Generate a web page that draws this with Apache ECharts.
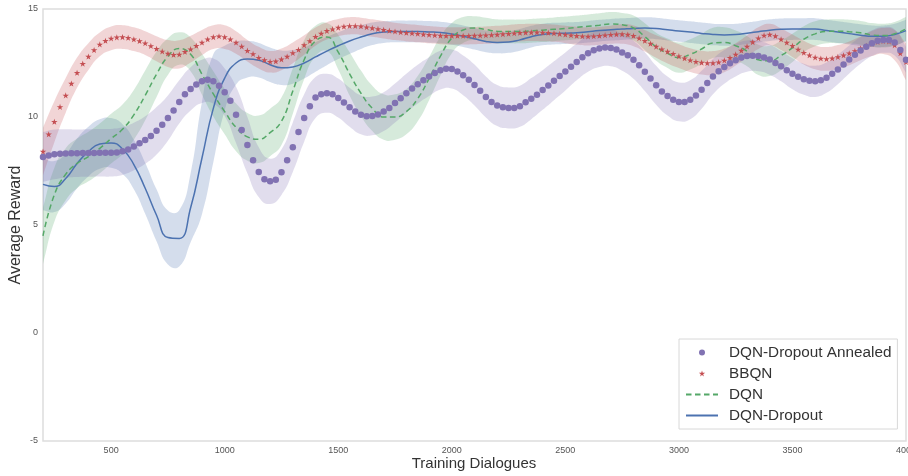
<!DOCTYPE html>
<html>
<head>
<meta charset="utf-8">
<title>Average Reward</title>
<script src="https://cdn.jsdelivr.net/npm/echarts@6/dist/echarts.min.js"></script>
<style>
	html, body { margin: 0; padding: 0; background: #fff; }
	#chart { width: 908px; height: 476px; }
</style>
</head>
<body>
<div id="chart"></div>
<script>
// sampling of the training curves (dialogues)
const xFirst = 200;
const stepFine = 25;    // marker series
const stepCoarse = 50;  // line series and shaded bands

const xTicks = [500, 1000, 1500, 2000, 2500, 3000, 3500, 4000];
const yTicks = [-5, 0, 5, 10, 15];

// DQN-Dropout Annealed, every 25 dialogues from 200
const annealed = [
	8.15, 8.22, 8.27, 8.3, 8.31, 8.32, 8.32, 8.33, 8.33, 8.33, 8.34, 8.34, 8.35, 8.36, 8.42, 8.5, 8.63, 8.78, 8.93, 9.12,
	9.36, 9.64, 9.95, 10.3, 10.7, 11.05, 11.3, 11.5, 11.65, 11.73, 11.66, 11.45, 11.15, 10.75, 10.1, 9.4, 8.7, 8.0, 7.45, 7.12,
	7.02, 7.1, 7.44, 8.0, 8.6, 9.3, 9.95, 10.5, 10.9, 11.05, 11.1, 11.05, 10.88, 10.67, 10.45, 10.25, 10.1, 10.04, 10.05, 10.12,
	10.25, 10.42, 10.65, 10.87, 11.1, 11.32, 11.52, 11.7, 11.87, 12.04, 12.17, 12.23, 12.22, 12.11, 11.93, 11.73, 11.48, 11.22, 10.93, 10.7,
	10.53, 10.45, 10.42, 10.42, 10.5, 10.68, 10.85, 11.03, 11.25, 11.46, 11.68, 11.9, 12.11, 12.33, 12.55, 12.77, 12.95, 13.09, 13.17, 13.22,
	13.2, 13.13, 12.99, 12.86, 12.65, 12.4, 12.1, 11.78, 11.47, 11.18, 10.97, 10.8, 10.7, 10.7, 10.8, 11.0, 11.26, 11.57, 11.87, 12.12,
	12.32, 12.49, 12.63, 12.75, 12.82, 12.84, 12.82, 12.76, 12.66, 12.5, 12.35, 12.17, 12.0, 11.86, 11.75, 11.68, 11.65, 11.7, 11.82, 12.0,
	12.2, 12.43, 12.66, 12.88, 13.08, 13.25, 13.42, 13.53, 13.57, 13.56, 13.45, 13.1, 12.65
];

// BBQN, every 25 dialogues from 200
const bbqn = [
	8.4, 9.2, 9.78, 10.47, 11.0, 11.55, 12.05, 12.47, 12.8, 13.1, 13.36, 13.53, 13.64, 13.69, 13.7, 13.67, 13.6, 13.52, 13.42, 13.29,
	13.16, 13.04, 12.94, 12.88, 12.9, 13.02, 13.14, 13.3, 13.45, 13.6, 13.7, 13.74, 13.7, 13.6, 13.45, 13.27, 13.07, 12.92, 12.75, 12.64,
	12.56, 12.58, 12.67, 12.8, 12.97, 13.12, 13.33, 13.52, 13.72, 13.87, 13.99, 14.07, 14.14, 14.19, 14.22, 14.22, 14.2, 14.16, 14.12, 14.08,
	14.04, 14.0, 13.96, 13.93, 13.9, 13.88, 13.86, 13.83, 13.81, 13.79, 13.77, 13.76, 13.76, 13.76, 13.76, 13.76, 13.77, 13.78, 13.79, 13.8,
	13.82, 13.84, 13.86, 13.88, 13.9, 13.91, 13.92, 13.92, 13.91, 13.9, 13.88, 13.85, 13.82, 13.79, 13.76, 13.74, 13.73, 13.74, 13.76, 13.79,
	13.81, 13.83, 13.84, 13.82, 13.76, 13.65, 13.53, 13.4, 13.26, 13.14, 13.03, 12.93, 12.82, 12.72, 12.63, 12.56, 12.52, 12.5, 12.5, 12.54,
	12.62, 12.74, 12.9, 13.08, 13.27, 13.47, 13.65, 13.78, 13.82, 13.75, 13.6, 13.45, 13.3, 13.13, 12.98, 12.86, 12.76, 12.71, 12.69, 12.72,
	12.78, 12.86, 12.95, 13.06, 13.18, 13.29, 13.4, 13.48, 13.52, 13.5, 13.33, 12.95, 12.55
];

// DQN, every 50 dialogues from 200
const dqn = [
	4.5, 6.4, 7.35, 7.85, 8.17, 8.55, 9.0, 9.43, 10.1, 11.0,
	11.98, 12.8, 13.17, 12.9, 11.98, 11.07, 10.25, 9.52, 9.08, 8.97,
	9.28, 9.8, 11.2, 12.65, 13.52, 13.7, 13.0, 12.0, 11.1, 10.4,
	10.0, 10.0, 10.25, 10.85, 11.78, 12.82, 13.65, 14.03, 14.12, 14.05,
	13.97, 13.96, 13.96, 13.99, 14.02, 14.06, 14.1, 14.15, 14.2, 14.25,
	14.31, 14.27, 14.12, 13.72, 13.25, 12.95, 12.75, 12.9, 13.15, 13.43,
	13.45, 13.3, 13.05, 12.65, 12.6, 12.85, 13.2, 13.6, 13.85, 13.96,
	13.97, 13.95, 13.9, 13.8, 13.77, 13.85, 14.08
];

// DQN-Dropout, every 50 dialogues from 200
const dropout = [
	6.88, 6.78, 7.15, 7.85, 8.4, 8.75, 8.8, 8.52, 7.8, 6.7,
	5.45, 4.42, 4.38, 5.8, 8.1, 10.4, 11.8, 12.5, 12.68, 12.63,
	12.42, 12.28, 12.32, 12.5, 12.78, 13.05, 13.3, 13.52, 13.7, 13.85,
	13.93, 13.96, 13.96, 13.96, 13.94, 13.91, 13.84, 13.74, 13.62, 13.5,
	13.45, 13.47, 13.57, 13.72, 13.82, 13.86, 13.88, 13.9, 13.95, 14.0,
	14.04, 14.07, 14.1, 14.12, 14.1, 14.04, 13.98, 13.93, 13.87, 13.82,
	13.8, 13.82, 13.88, 13.95, 14.02, 14.06, 14.07, 14.07, 14.07, 14.0,
	13.93, 13.86, 13.79, 13.74, 13.74, 13.82, 14.0
];

// half height of the shaded bands, every 50 dialogues from 200
const annealedSpread = [
	1.15, 1.15, 1.12, 1.1, 1.1, 1.1, 1.1, 1.1, 1.1, 1.1,
	1.1, 1.05, 1.0, 1.0, 1.0, 1.05, 1.1, 1.3, 1.3, 1.15,
	1.05, 1.05, 1.15, 1.1, 0.95, 0.9, 0.9, 0.9, 0.9, 0.9,
	0.9, 0.9, 0.9, 0.9, 0.9, 0.9, 0.9, 0.92, 0.95, 0.95,
	0.95, 0.95, 0.95, 0.95, 0.92, 0.9, 0.88, 0.85, 0.85, 0.85,
	0.85, 0.85, 0.88, 0.9, 0.9, 0.9, 0.9, 0.9, 0.88, 0.82,
	0.78, 0.75, 0.72, 0.7, 0.7, 0.7, 0.72, 0.72, 0.72, 0.7,
	0.68, 0.65, 0.62, 0.6, 0.6, 0.6, 0.6
];
const bbqnSpread = [
	1.1, 0.95, 0.8, 0.7, 0.62, 0.55, 0.55, 0.55, 0.55, 0.55,
	0.58, 0.62, 0.65, 0.62, 0.58, 0.55, 0.55, 0.52, 0.5, 0.5,
	0.5, 0.5, 0.48, 0.45, 0.42, 0.4, 0.4, 0.4, 0.4, 0.4,
	0.4, 0.4, 0.4, 0.4, 0.4, 0.4, 0.4, 0.4, 0.4, 0.4,
	0.4, 0.4, 0.4, 0.4, 0.4, 0.4, 0.4, 0.42, 0.42, 0.42,
	0.42, 0.45, 0.48, 0.5, 0.52, 0.55, 0.55, 0.55, 0.55, 0.55,
	0.55, 0.52, 0.5, 0.5, 0.5, 0.5, 0.52, 0.55, 0.55, 0.55,
	0.55, 0.55, 0.55, 0.58, 0.6, 0.7, 0.85
];
const dqnSpread = [
	1.3, 1.25, 1.2, 1.15, 1.15, 1.15, 1.15, 1.15, 1.15, 1.15,
	1.05, 0.85, 0.75, 0.78, 0.95, 1.05, 1.05, 1.1, 1.1, 1.1,
	1.1, 1.1, 1.05, 0.9, 0.7, 0.65, 0.8, 1.0, 1.05, 1.05,
	1.05, 1.05, 1.05, 1.05, 1.0, 0.9, 0.7, 0.6, 0.55, 0.55,
	0.55, 0.55, 0.55, 0.55, 0.55, 0.55, 0.55, 0.55, 0.55, 0.55,
	0.55, 0.55, 0.58, 0.62, 0.65, 0.68, 0.7, 0.7, 0.7, 0.7,
	0.7, 0.7, 0.7, 0.7, 0.7, 0.68, 0.65, 0.6, 0.58, 0.55,
	0.55, 0.55, 0.55, 0.55, 0.55, 0.55, 0.55
];
const dropoutSpread = [
	1.2, 1.18, 1.15, 1.15, 1.15, 1.15, 1.15, 1.15, 1.15, 1.18,
	1.2, 1.25, 1.3, 1.6, 2.6, 2.5, 1.5, 1.0, 0.85, 0.8,
	0.8, 0.8, 0.78, 0.72, 0.68, 0.65, 0.62, 0.6, 0.55, 0.52,
	0.5, 0.5, 0.5, 0.5, 0.5, 0.5, 0.5, 0.5, 0.5, 0.5,
	0.5, 0.5, 0.5, 0.5, 0.5, 0.5, 0.5, 0.5, 0.5, 0.5,
	0.5, 0.5, 0.5, 0.5, 0.5, 0.5, 0.5, 0.5, 0.5, 0.5,
	0.5, 0.5, 0.5, 0.5, 0.5, 0.5, 0.5, 0.5, 0.5, 0.5,
	0.5, 0.5, 0.5, 0.5, 0.5, 0.5, 0.5
];

const names = ['DQN-Dropout Annealed', 'BBQN', 'DQN', 'DQN-Dropout'];
const colors = ['#8172B2', '#C44E52', '#55A868', '#4C72B0'];
const bandColors = ['rgba(129,114,178,0.24)', 'rgba(196,78,82,0.24)', 'rgba(85,168,104,0.24)', 'rgba(76,114,176,0.24)'];

const STAR = 'path://M50,0 L61,35 L98,35 L68,57 L79,91 L50,70 L21,91 L32,57 L2,35 L39,35 Z';
const FONT = 'Liberation Sans, Arial, sans-serif';

function toPoints(values, step)
{
	return values.map((v, i) => [xFirst + i * step, v]);
}

// bezier path through pixel points, same control points as a smooth:true line
function smoothPath(pts, start)
{
	let d = start + pts[0][0] + ',' + pts[0][1];
	let cp = [];
	for (let i = 0; i < pts.length; i++)
	{
		let prev = pts[Math.max(i - 1, 0)];
		let next = pts[Math.min(i + 1, pts.length - 1)];
		let p = pts[i];
		let l0 = Math.hypot(p[0] - prev[0], p[1] - prev[1]);
		let l1 = Math.hypot(next[0] - p[0], next[1] - p[1]);
		let r = (l0 + l1) > 0 ? l1 / (l0 + l1) : 0.5;
		let vx = next[0] - prev[0];
		let vy = next[1] - prev[1];
		cp.push({
			before: [p[0] - vx * 0.5 * (1 - r), p[1] - vy * 0.5 * (1 - r)],
			after: [p[0] + vx * 0.5 * r, p[1] + vy * 0.5 * r],
		});
	}
	for (let i = 1; i < pts.length; i++)
	{
		let a = cp[i - 1].after;
		let b = cp[i].before;
		d += ' C' + a[0] + ',' + a[1] + ' ' + b[0] + ',' + b[1] + ' ' + pts[i][0] + ',' + pts[i][1];
	}
	return d;
}

// shaded region mean +/- spread, drawn as one filled path
function band(mean, meanStep, spread, color)
{
	let rows = spread.map((s, i) =>
	{
		let x = xFirst + i * stepCoarse;
		let m = mean[Math.round((x - xFirst) / meanStep)];
		return [x, m - s, m + s];
	});

	return {
		type: 'custom',
		silent: true,
		clip: true,
		z: 1,
		data: rows,
		encode: { x: 0, y: [1, 2] },
		renderItem: (params, api) =>
		{
			if (params.dataIndex !== 0)
			{
				return null;
			}
			let top = rows.map((r) => api.coord([r[0], r[2]]));
			let bottom = rows.map((r) => api.coord([r[0], r[1]])).reverse();
			return {
				type: 'path',
				shape: { pathData: smoothPath(top, 'M') + ' ' + smoothPath(bottom, 'L') + ' Z' },
				style: { fill: color },
			};
		},
	};
}

class RewardChart
{
	static Create(element)
	{
		return new RewardChart(element);
	}

	constructor(element)
	{
		this.element = element;
		this.chart = echarts.init(this.element, null, { renderer: 'canvas' });
	}

	Draw()
	{
		let series = [
			band(dropout, stepCoarse, dropoutSpread, bandColors[3]),
			band(dqn, stepCoarse, dqnSpread, bandColors[2]),
			band(bbqn, stepFine, bbqnSpread, bandColors[1]),
			band(annealed, stepFine, annealedSpread, bandColors[0]),
		];

		series.push({
			name: names[3],
			type: 'line',
			data: toPoints(dropout, stepCoarse),
			smooth: true,
			symbol: 'none',
			z: 3,
			lineStyle: { color: colors[3], width: 1.5 },
			itemStyle: { color: colors[3] },
		});
		series.push({
			name: names[2],
			type: 'line',
			data: toPoints(dqn, stepCoarse),
			smooth: true,
			symbol: 'none',
			z: 3,
			lineStyle: { color: colors[2], width: 1.5, type: [5.5, 3.5] },
			itemStyle: { color: colors[2] },
		});
		series.push({
			name: names[1],
			type: 'scatter',
			data: toPoints(bbqn, stepFine),
			symbol: STAR,
			symbolSize: 6.5,
			symbolKeepAspect: true,
			z: 4,
			itemStyle: { color: colors[1], opacity: 1 },
		});
		series.push({
			name: names[0],
			type: 'scatter',
			data: toPoints(annealed, stepFine),
			symbol: 'circle',
			symbolSize: 6.5,
			z: 4,
			itemStyle: { color: colors[0], opacity: 1 },
		});

		let hidden = { color: 'rgba(0,0,0,0)', borderWidth: 0 };

		let option = {
			animation: false,
			backgroundColor: '#fff',
			grid: {
				left: 43, right: 2, top: 9, bottom: 35,
				outerBoundsMode: 'none',
				containLabel: false,
				show: true, borderColor: '#dddddd', borderWidth: 1.5, backgroundColor: 'transparent',
			},
			// axis titles, placed by hand
			graphic: [
				{
					type: 'text',
					x: 16, y: 225,
					rotation: Math.PI / 2,
					style: {
						text: 'Average Reward', fill: '#333',
						font: '16px Liberation Sans, Arial, sans-serif',
						align: 'center', verticalAlign: 'middle',
					},
				},
				{
					type: 'text',
					x: 474, y: 464,
					style: {
						text: 'Training Dialogues', fill: '#333',
						font: '15px Liberation Sans, Arial, sans-serif',
						align: 'center', verticalAlign: 'middle',
					},
				},
			],
			legend: {
				data: [
					{ name: names[0], icon: 'circle' },
					{ name: names[1], icon: STAR },
					{ name: names[2], itemStyle: hidden },
					{ name: names[3], itemStyle: hidden },
				],
				orient: 'vertical',
				left: 679,
				top: 339,
				itemWidth: 32,
				itemHeight: 6,
				itemGap: 6,
				padding: [6, 6, 6, 6],
				backgroundColor: '#fff',
				borderColor: '#d8d8d8',
				borderWidth: 1,
				textStyle: { fontFamily: FONT, fontSize: 15.3, color: '#333', padding: [0, 0, 0, 6] },
			},
			xAxis: {
				type: 'value',
				min: xFirst,
				max: 4000,
				axisLine: { show: false },
				axisTick: { show: false },
				splitLine: { show: false },
				axisLabel: {
					customValues: xTicks,
					formatter: (v) => String(v),
					fontFamily: FONT, fontSize: 9, color: '#555', margin: 5,
				},
			},
			yAxis: {
				type: 'value',
				min: -5,
				max: 15,
				interval: 5,
				axisLine: { show: false },
				axisTick: { show: false },
				splitLine: { show: false },
				axisLabel: {
					customValues: yTicks,
					formatter: (v) => String(v),
					fontFamily: FONT, fontSize: 9, color: '#555', margin: 5,
				},
			},
			series: series,
		};

		this.chart.setOption(option);
	}

	Dispose()
	{
		this.chart.dispose();
	}
}

RewardChart.Create(document.getElementById('chart')).Draw();
</script>
</body>
</html>
